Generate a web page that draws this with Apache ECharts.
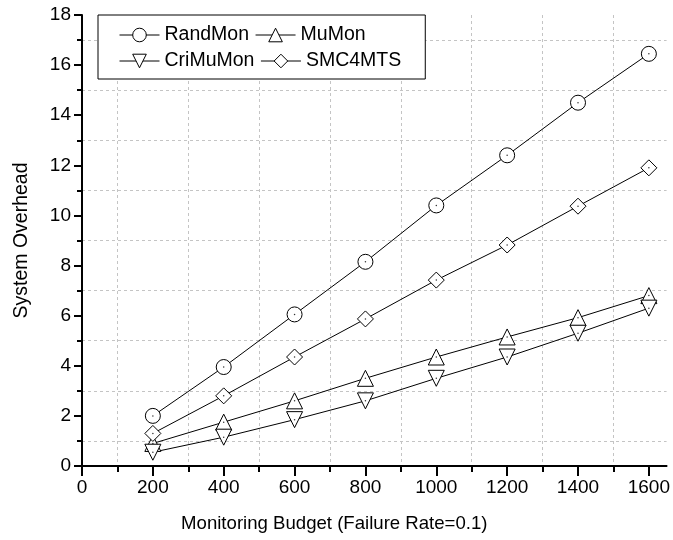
<!DOCTYPE html>
<html>
<head>
<meta charset="utf-8">
<script src="https://cdn.jsdelivr.net/npm/echarts@6/dist/echarts.min.js"></script>
<style>
  html, body { margin: 0; padding: 0; background: #fff; }
  #chart { width: 673px; height: 540px; }
</style>
</head>
<body>
<div id="chart"></div>
<script>
// data
const budgets = [200, 400, 600, 800, 1000, 1200, 1400, 1600];
const randMon = [2.0, 3.95, 6.05, 8.15, 10.4, 12.4, 14.5, 16.45];
const muMon = [0.9, 1.75, 2.6, 3.5, 4.35, 5.15, 5.92, 6.8];
const criMuMon = [0.55, 1.15, 1.85, 2.6, 3.5, 4.35, 5.3, 6.3];
const smc4mts = [1.3, 2.8, 4.35, 5.87, 7.42, 8.82, 10.37, 11.9];

const xMajorTicks = [0, 200, 400, 600, 800, 1000, 1200, 1400, 1600];
const xMinorTicks = [100, 300, 500, 700, 900, 1100, 1300, 1500];

const font = 'Liberation Sans, Arial, sans-serif';

const pairs = (ys) => budgets.map((x, i) => [x, ys[i]]);

function lineSeries(name, ys, symbol, rotate) {
    return {
        name: name,
        type: 'line',
        data: pairs(ys),
        symbol: symbol,
        symbolRotate: rotate || 0,
        symbolSize: symbol === 'circle' ? 15 : 16,
        showAllSymbol: true,
        lineStyle: { color: '#000', width: 1 },
        itemStyle: { color: '#fff', borderColor: '#000', borderWidth: 1 },
        emphasis: { disabled: true },
        z: 2
    };
}

// the small centre dots of the markers
function dotSeries(ys) {
    return {
        type: 'scatter',
        data: pairs(ys),
        symbol: 'circle',
        symbolSize: 1.5,
        itemStyle: { color: '#000' },
        silent: true,
        z: 5
    };
}

const myChart = echarts.init(document.getElementById('chart'));
const option = {
    backgroundColor: '#fff',
    animation: false,
    textStyle: { fontFamily: font },
    grid: { left: 82, right: 3, top: 15, bottom: 74 },
    legend: {
        data: ['RandMon', 'MuMon', 'CriMuMon', 'SMC4MTS'],
        left: 98,
        top: 15,
        width: 295,
        orient: 'horizontal',
        padding: [10, 24, 8, 21],
        itemGap: 6,
        itemWidth: 40,
        itemHeight: 17,
        borderColor: '#000',
        borderWidth: 1,
        backgroundColor: '#fff',
        lineStyle: { width: 1 },
        itemStyle: { borderWidth: 1 },
        textStyle: { fontSize: 19.5, color: '#000', fontFamily: font }
    },
    xAxis: [
        {
            type: 'value',
            min: 0,
            max: 1650,
            interval: 200,
            position: 'bottom',
            axisLine: { show: true, onZero: false, lineStyle: { color: '#000', width: 2 } },
            axisTick: { show: true, customValues: xMajorTicks, length: 10, lineStyle: { color: '#000', width: 2 } },
            axisLabel: {
                customValues: xMajorTicks,
                formatter: (v) => String(v),
                fontSize: 19, color: '#000', margin: 12, fontFamily: font
            },
            splitLine: { show: false },
            name: 'Monitoring Budget (Failure Rate=0.1)',
            nameLocation: 'middle',
            nameGap: 48,
            nameTextStyle: { fontSize: 18.6, color: '#000', fontFamily: font, padding: [0, 80, 0, 0] }
        },
        {
            type: 'value',
            min: 0,
            max: 1650,
            interval: 100,
            position: 'bottom',
            axisLine: { show: false, onZero: false },
            axisTick: { show: true, customValues: xMinorTicks, length: 6, lineStyle: { color: '#000', width: 2 } },
            axisLabel: { show: false },
            splitLine: { show: true, lineStyle: { color: '#c4c4c4', width: 1, type: [3, 3] } }
        }
    ],
    yAxis: {
        type: 'value',
        min: 0,
        max: 18,
        interval: 2,
        axisLine: { show: true, onZero: false, lineStyle: { color: '#000', width: 2 } },
        axisTick: { show: true, length: 8, lineStyle: { color: '#000', width: 2 } },
        minorTick: { show: true, splitNumber: 2, length: 5, lineStyle: { color: '#000', width: 2 } },
        axisLabel: { fontSize: 19, color: '#000', margin: 11, fontFamily: font },
        splitLine: { show: false },
        minorSplitLine: { show: true, lineStyle: { color: '#c4c4c4', width: 1, type: [3, 3] } },
        name: 'System Overhead',
        nameLocation: 'middle',
        nameGap: 50,
        nameTextStyle: { fontSize: 19.5, color: '#000', fontFamily: font }
    },
    series: [
        lineSeries('RandMon', randMon, 'circle'),
        lineSeries('MuMon', muMon, 'triangle'),
        lineSeries('CriMuMon', criMuMon, 'triangle', 180),
        lineSeries('SMC4MTS', smc4mts, 'diamond'),
        dotSeries(randMon),
        dotSeries(muMon),
        dotSeries(criMuMon),
        dotSeries(smc4mts)
    ]
};

myChart.setOption(option);
</script>
</body>
</html>
